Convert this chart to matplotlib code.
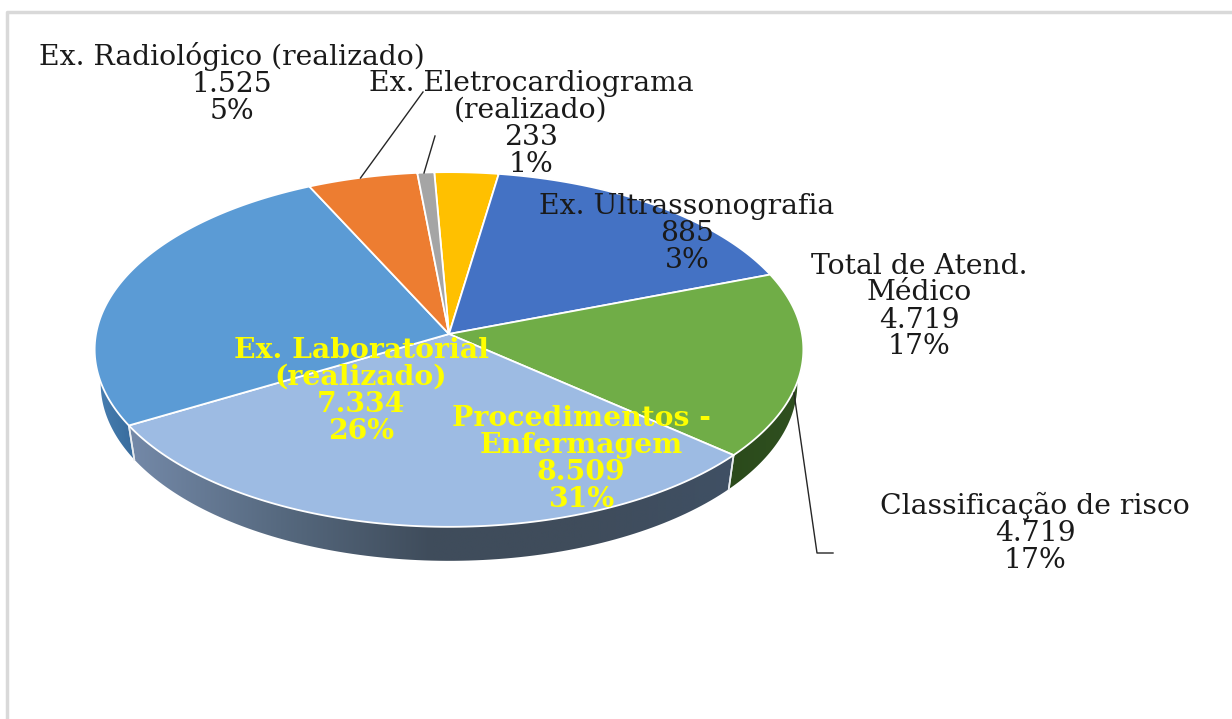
import numpy as np
import matplotlib
matplotlib.use("Agg")
import matplotlib.pyplot as plt
from matplotlib.colors import LinearSegmentedColormap
from matplotlib.patches import Polygon

# Slices, clockwise from the yellow one. The labels in the source do not line up with slices.
slice_values = [885, 4719, 4719, 8509, 7334, 1525, 233]
slice_colors = ["#ffc000", "#4472c4", "#70ad47", "#9dbbe3", "#5b9bd5", "#ed7d31", "#a5a5a5"]

label_names = [
    "Ex. Radiológico (realizado)",
    "Ex. Eletrocardiograma\n(realizado)",
    "Ex. Ultrassonografia",
    "Total de Atend.\nMédico",
    "Classificação de risco",
    "Ex. Laboratorial\n(realizado)",
    "Procedimentos -\nEnfermagem",
]
label_values = [1525, 233, 885, 4719, 4719, 7334, 8509]
label_percents = [5, 1, 3, 17, 17, 26, 31]

label_xy = [(232, 83.5), (531, 124), (687, 233.5), (919, 306.5), (1035, 532.5), (361, 391), (581, 459)]
label_yellow = [False, False, False, False, False, True, True]

# 3D pie geometry, pixels
CX, CY = 449, 334
SX, SY = 353, 176
TILT = 0.0873
DEPTH = 34
BOTTOM_SCALE = 0.983  # lower rim is a bit narrower
START_ANGLE = -2.6
SIDE_FROM, SIDE_TO = 95, 265  # part of the rim facing the viewer


def project(theta_deg):
    """Angle clockwise from the back of the pie -> pixel position on the rim."""
    t = np.radians(theta_deg)
    u, v = np.sin(t), np.cos(t)
    w = 1 + TILT * v
    return CX + SX * u / w, CY - SY * v / w


def lower_rim(x, y):
    return CX + (x - CX) * BOTTOM_SCALE, y + DEPTH


def fmt(value):
    return f"{value:,}".replace(",", ".")


fig = plt.figure(figsize=(12.32, 7.19), dpi=100)
ax = fig.add_axes([0, 0, 1, 1])

sweeps = np.array(slice_values) / sum(slice_values) * 360
ends = START_ANGLE + np.cumsum(sweeps)
starts = ends - sweeps

side_gradient = {
    "#70ad47": ["#2b4a1b", "#2f5020"],
    "#9dbbe3": ["#7489a8", "#56697f", "#3f4c5b", "#3f4c5b", "#3f5064"],
    "#5b9bd5": ["#4a80b2", "#376b9c"],
}

for a, b, color in zip(starts, ends, slice_colors):
    lo, hi = max(a, SIDE_FROM), min(b, SIDE_TO)
    if lo >= hi:
        continue
    x, y = project(np.linspace(lo, hi, 100))
    bx, by = lower_rim(x, y)
    xs = np.r_[x, bx[::-1]]
    ys = np.r_[y, by[::-1]]
    patch = Polygon(np.c_[xs, ys], closed=True, facecolor="none", edgecolor="none", zorder=2)
    ax.add_patch(patch)
    cmap = LinearSegmentedColormap.from_list("side", side_gradient[color])
    img = ax.imshow(np.linspace(0, 1, 256)[None, :], cmap=cmap, aspect="auto", zorder=2,
                    extent=(xs.min(), xs.max(), ys.max(), ys.min()))
    img.set_clip_path(patch)
    # white seams between the side faces
    for seam in (a, b):
        if SIDE_FROM < seam < SIDE_TO:
            sx, sy = project(seam)
            ex, ey = lower_rim(sx, sy)
            ax.plot([sx, ex], [sy, ey], color="#e8ecf0", lw=1.2, zorder=3)

# top face
for a, b, color in zip(starts, ends, slice_colors):
    x, y = project(np.linspace(a, b, 120))
    ax.fill(np.r_[CX, x], np.r_[CY, y], facecolor=color, edgecolor="white", lw=1.3,
            joinstyle="round", zorder=4)

# leader lines
ax.plot([423, 360.5], [92, 178], color="#262626", lw=1, zorder=5)
ax.plot([435, 424], [136, 173], color="#262626", lw=1, zorder=5)
ax.plot([794, 817, 833], [393, 553, 553], color="#262626", lw=1, zorder=5)

for name, val, pct, xy, yellow in zip(label_names, label_values, label_percents, label_xy, label_yellow):
    ax.text(xy[0], xy[1], f"{name}\n{fmt(val)}\n{pct}%", ha="center", va="center", ma="center",
            family="DejaVu Serif", fontsize=20.3, linespacing=1.0,
            color="#ffff00" if yellow else "#1a1a1a",
            fontweight="bold" if yellow else "normal", zorder=6)

# frame of the pasted picture
ax.plot([7, 7, 1232], [719, 12, 12], color="#d9d9d9", lw=2.5, zorder=1)

ax.set_xlim(0, 1232)
ax.set_ylim(719, 0)
ax.axis("off")

fig.savefig("out.png", dpi=100)
